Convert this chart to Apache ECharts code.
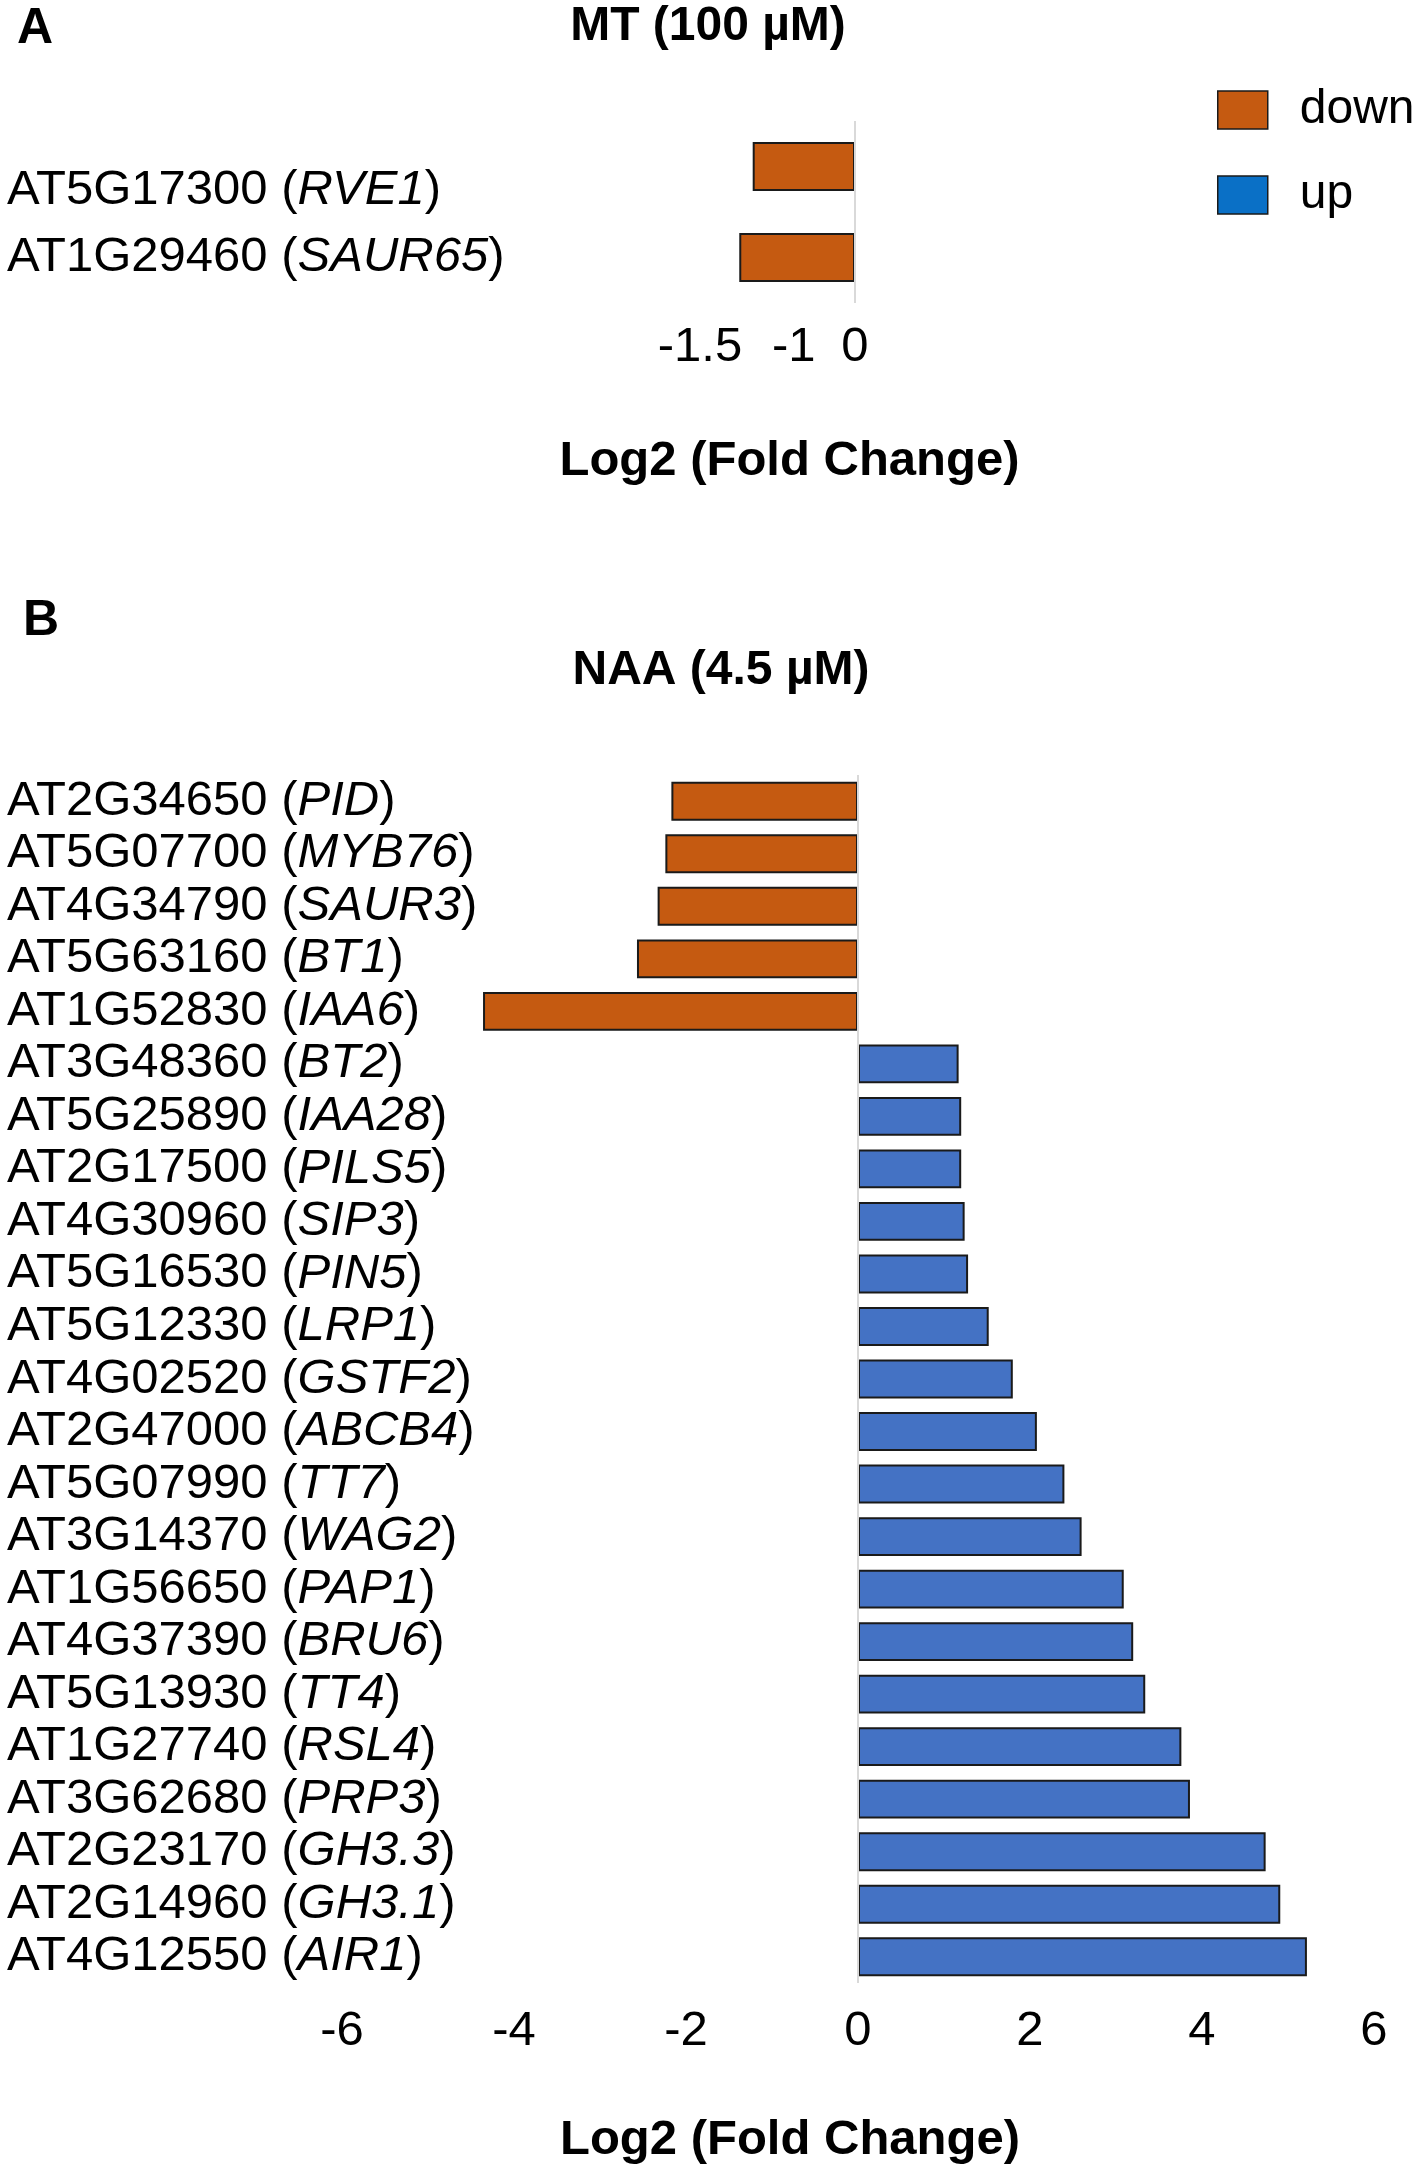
<!DOCTYPE html>
<html><head><meta charset="utf-8">
<script src="https://cdn.jsdelivr.net/npm/echarts@6/dist/echarts.min.js"></script>
<style>html,body{margin:0;padding:0;background:#fff}#c{width:1418px;height:2174px}</style>
</head><body><div id="c"></div><script>
// ---- data ----
const mtGenes = ['AT5G17300 (RVE1)', 'AT1G29460 (SAUR65)'];
const mtDown = [-0.99, -1.12];
const mtTickLabels = [-1.5, -1, 0];

const naaGenes = [
  'AT2G34650 (PID)', 'AT5G07700 (MYB76)', 'AT4G34790 (SAUR3)', 'AT5G63160 (BT1)',
  'AT1G52830 (IAA6)', 'AT3G48360 (BT2)', 'AT5G25890 (IAA28)', 'AT2G17500 (PILS5)',
  'AT4G30960 (SIP3)', 'AT5G16530 (PIN5)', 'AT5G12330 (LRP1)', 'AT4G02520 (GSTF2)',
  'AT2G47000 (ABCB4)', 'AT5G07990 (TT7)', 'AT3G14370 (WAG2)', 'AT1G56650 (PAP1)',
  'AT4G37390 (BRU6)', 'AT5G13930 (TT4)', 'AT1G27740 (RSL4)', 'AT3G62680 (PRP3)',
  'AT2G23170 (GH3.3)', 'AT2G14960 (GH3.1)', 'AT4G12550 (AIR1)'
];
const naaDown = [-2.17, -2.24, -2.33, -2.57, -4.36,
  '-', '-', '-', '-', '-', '-', '-', '-', '-', '-', '-', '-', '-', '-', '-', '-', '-', '-'];
const naaUp = ['-', '-', '-', '-', '-',
  1.17, 1.20, 1.20, 1.24, 1.28, 1.52, 1.80, 2.08, 2.40, 2.60, 3.09, 3.20, 3.34, 3.76, 3.86, 4.74, 4.91, 5.22];

const titleA = 'MT (100 \u00b5M)';
const titleB = 'NAA (4.5 \u00b5M)';
const axisTitle = 'Log2 (Fold Change)';

// ---- styles ----
const FONT = '"Liberation Sans", Arial, sans-serif';
const FS = 49;
const DOWN = '#C55A11';
const UP = '#4472C4';
const UP_LEGEND = '#0A70C6';

function makeGeneLabel(lowerFirst) {
  return function (v, idx) {
    const m = v.match(/^(.*\()(.*)(\))$/);
    if (!m) return v;
    const n = (lowerFirst && idx === 0) ? 'n0' : 'n';
    const i = (lowerFirst && idx === 0) ? 'i0' : 'i';
    return '{' + n + '|' + m[1] + '}{' + i + '|' + m[2] + '}{' + n + '|' + m[3] + '}';
  };
}
const rich = {
  n: { fontFamily: FONT, fontSize: FS, color: '#000' },
  i: { fontFamily: FONT, fontSize: FS, color: '#000', fontStyle: 'italic' },
  n0: { fontFamily: FONT, fontSize: FS, color: '#000', padding: [48, 0, 0, 0] },
  i0: { fontFamily: FONT, fontSize: FS, color: '#000', fontStyle: 'italic', padding: [48, 0, 0, 0] }
};

const chart = echarts.init(document.getElementById('c'), null, { renderer: 'canvas' });
const barStyleDown = { color: DOWN, borderColor: '#1a1a1a', borderWidth: 2 };
const barStyleUp = { color: UP, borderColor: '#1a1a1a', borderWidth: 2 };
const zeroLine = {
  silent: true, symbol: 'none', label: { show: false },
  lineStyle: { color: '#d9d9d9', width: 2, type: 'solid' },
  data: [{ xAxis: 0 }]
};

chart.setOption({
  backgroundColor: '#fff',
  animation: false,
  textStyle: { fontFamily: FONT },
  legend: {
    orient: 'vertical', left: 1212, top: 81,
    itemWidth: 50, itemHeight: 38, itemGap: 37,
    icon: 'rect',
    itemStyle: { borderColor: '#1a1a1a', borderWidth: 1.5 },
    textStyle: { fontFamily: FONT, fontSize: 48, color: '#000', padding: [0, 0, 0, 27] },
    data: [
      { name: 'down', itemStyle: { color: DOWN } },
      { name: 'up', itemStyle: { color: UP_LEGEND } }
    ]
  },
  grid: [
    { left: 700, right: 563, top: 121, height: 182 },
    { left: 342, right: 44, top: 775, height: 1208 }
  ],
  xAxis: [
    {
      gridIndex: 0, type: 'value', min: -1.5, max: 0, interval: 0.5,
      axisLine: { show: false }, axisTick: { show: false }, splitLine: { show: false },
      axisLabel: {
        fontFamily: FONT, fontSize: FS, color: '#000', margin: 20,
        showMinLabel: true, showMaxLabel: true,
        formatter: v => {
          if (mtTickLabels.indexOf(v) < 0) return '';
          return v === -1 ? '{s|' + v + '}' : String(v);
        },
        rich: { s: { fontFamily: FONT, fontSize: FS, color: '#000', padding: [0, 0, 0, 84] } }
      },
      name: axisTitle, nameLocation: 'middle', nameGap: 134,
      nameTextStyle: { fontFamily: FONT, fontSize: FS, fontWeight: 'bold', color: '#000', padding: [0, 0, 0, 24] }
    },
    {
      gridIndex: 1, type: 'value', min: -6, max: 6, interval: 2,
      axisLine: { show: false }, axisTick: { show: false }, splitLine: { show: false },
      axisLabel: { fontFamily: FONT, fontSize: FS, color: '#000', margin: 24 },
      name: axisTitle, nameLocation: 'middle', nameGap: 133,
      nameTextStyle: { fontFamily: FONT, fontSize: FS, fontWeight: 'bold', color: '#000', padding: [0, 136, 0, 0] }
    }
  ],
  yAxis: [
    {
      gridIndex: 0, type: 'category', data: mtGenes, inverse: true,
      axisLine: { show: false }, axisTick: { show: false },
      axisLabel: { align: 'left', margin: 693, formatter: makeGeneLabel(true), rich: rich }
    },
    {
      gridIndex: 1, type: 'category', data: naaGenes, inverse: true,
      axisLine: { show: false }, axisTick: { show: false },
      axisLabel: { align: 'left', margin: 335, formatter: makeGeneLabel(false), rich: rich }
    }
  ],
  series: [
    {
      name: 'down', type: 'bar', xAxisIndex: 0, yAxisIndex: 0,
      data: mtDown, barCategoryGap: '46%', itemStyle: barStyleDown, markLine: zeroLine
    },
    {
      name: 'down', type: 'bar', xAxisIndex: 1, yAxisIndex: 1, stack: 'naa',
      data: naaDown, barCategoryGap: '26%', itemStyle: barStyleDown, markLine: zeroLine
    },
    {
      name: 'up', type: 'bar', xAxisIndex: 1, yAxisIndex: 1, stack: 'naa',
      data: naaUp, barCategoryGap: '26%', itemStyle: barStyleUp
    }
  ],
  graphic: [
    { type: 'text', left: 17, top: 4, style: { text: 'A', font: 'bold 50px ' + FONT, fill: '#000' } },
    { type: 'text', left: 23, top: 596, style: { text: 'B', font: 'bold 50px ' + FONT, fill: '#000' } },
    { type: 'text', x: 708, y: 27, style: { text: titleA, font: 'bold 48px ' + FONT, fill: '#000', textAlign: 'center', textVerticalAlign: 'middle' } },
    { type: 'text', x: 721, y: 671, style: { text: titleB, font: 'bold 48px ' + FONT, fill: '#000', textAlign: 'center', textVerticalAlign: 'middle' } }
  ]
});
</script></body></html>
